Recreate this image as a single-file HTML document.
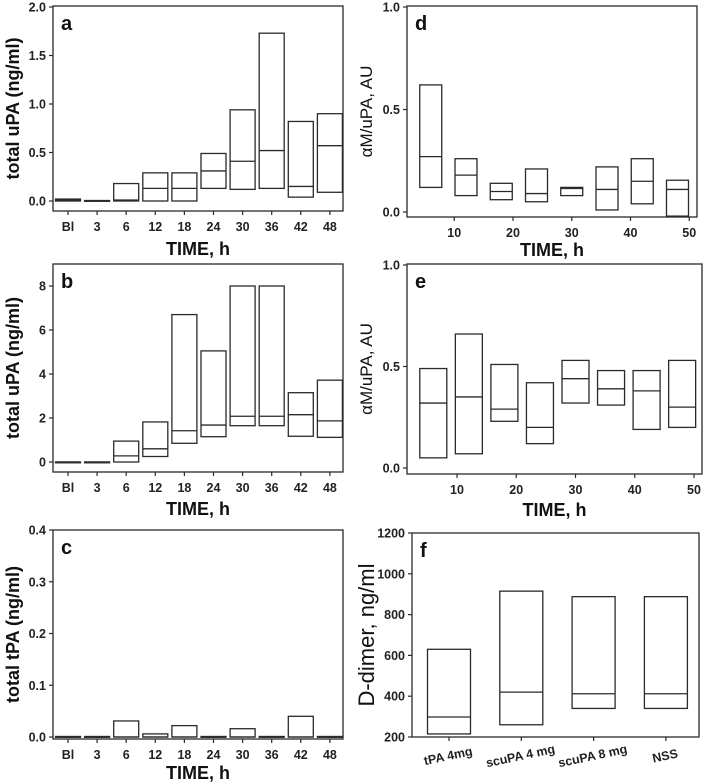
<!DOCTYPE html>
<html><head><meta charset="utf-8"><style>
body{margin:0;background:#fff}
svg{display:block;font-family:"Liberation Sans",sans-serif}
</style></head><body>
<svg id="fig" width="708" height="784" viewBox="0 0 708 784"></svg>
<script>
// Panel a: total uPA
const catsTime=["Bl","3","6","12","18","24","30","36","42","48"];
const aLow=[0,0,0,0,0,0.13,0.12,0.13,0.04,0.09];
const aMed=[0.01,0.002,0.01,0.13,0.13,0.31,0.41,0.52,0.15,0.57];
const aHigh=[0.02,0.005,0.18,0.29,0.29,0.49,0.94,1.73,0.82,0.9];
const aTicks=[0,0.5,1.0,1.5,2.0];
// Panel b: total uPA
const bLow=[0,0,0,0.25,0.85,1.15,1.65,1.65,1.17,1.12];
const bMed=[0,0,0.28,0.6,1.42,1.68,2.08,2.08,2.15,1.87];
const bHigh=[0,0,0.95,1.82,6.7,5.05,8,8,3.15,3.72];
const bTicks=[0,2,4,6,8];
// Panel c: total tPA
const cLow=[0,0,0,0,0,0,0,0,0,0];
const cMed=[0,0,0,0,0,0,0,0,0,0];
const cHigh=[0.001,0.001,0.031,0.006,0.022,0.001,0.016,0.001,0.04,0.001];
const cTicks=[0,0.1,0.2,0.3,0.4];
// Panel d: aM/uPA
const dX=[6,12,18,24,30,36,42,48];
const dLow=[0.12,0.08,0.06,0.05,0.08,0.01,0.04,-0.02];
const dMed=[0.27,0.18,0.10,0.09,0.115,0.11,0.15,0.11];
const dHigh=[0.62,0.26,0.14,0.21,0.12,0.22,0.26,0.155];
const dTicks=[0,0.5,1.0];
const dxTicks=[10,20,30,40,50];
// Panel e: aM/uPA
const eX=[6,12,18,24,30,36,42,48];
const eLow=[0.05,0.07,0.23,0.12,0.32,0.31,0.19,0.2];
const eMed=[0.32,0.35,0.29,0.2,0.44,0.39,0.38,0.3];
const eHigh=[0.49,0.66,0.51,0.42,0.53,0.48,0.48,0.53];
const eTicks=[0,0.5,1.0];
// Panel f: D-dimer
const fCats=["tPA 4mg","scuPA 4 mg","scuPA 8 mg","NSS"];
const fLow=[215,260,340,340];
const fMed=[298,420,412,412];
const fHigh=[630,915,888,888];
const fTicks=[200,400,600,800,1000,1200];

const NS="http://www.w3.org/2000/svg";
const svg=document.getElementById('fig');
const C="#2a2a2a";
function el(tag,attrs,parent,txt){const e=document.createElementNS(NS,tag);for(const k in attrs)e.setAttribute(k,attrs[k]);if(txt!==undefined)e.textContent=txt;(parent||svg).appendChild(e);return e;}

function panel(o){
  const g=el('g',{});
  
  
  const y=v=>o.y0+(v-o.ymin)/(o.ymax-o.ymin)*(o.y1-o.y0);
  const fr=el('rect',{x:o.L,y:o.T,width:o.R-o.L,height:o.B-o.T,fill:'none',stroke:C,'stroke-width':1.3},g);
  
  
  o.yticks.forEach(t=>{
    const yy=y(t);
    el('line',{x1:o.L-4,x2:o.L,y1:yy,y2:yy,stroke:C,'stroke-width':1.2},g);
    const tl=el('text',{x:o.L-7,y:yy+4.5,'text-anchor':'end','font-size':12.5,'font-weight':'bold',fill:'#222'},g,o.yfmt(t));
    
    
  });
  o.xticks.forEach((t,i)=>{
    const xx=o.xpos(t,i);
    el('line',{x1:xx,x2:xx,y1:o.B,y2:o.B+4,stroke:C,'stroke-width':1.2},g);
    let tl;
    if(o.rot){tl=el('text',{x:xx,y:o.B+23,'text-anchor':'middle','font-size':12.5,'font-weight':'bold',fill:'#222',transform:`rotate(-12 ${xx} ${o.B+23})`},g,o.xlab(t,i));}
    else tl=el('text',{x:xx,y:o.B+20,'text-anchor':'middle','font-size':12.5,'font-weight':'bold',fill:'#222'},g,o.xlab(t,i));
    
    
  });
  o.lo.forEach((lo,i)=>{
    const cx=o.cx(i),w=o.bw;
    const top=y(o.hi[i]),bot=y(lo);
    const r=el('rect',{x:cx-w/2,y:Math.min(top,bot),width:w,height:Math.max(Math.abs(bot-top),0.8),fill:'none',stroke:C,'stroke-width':1.3},g);
    
    
    const m=el('line',{x1:cx-w/2,x2:cx+w/2,y1:y(o.med[i]),y2:y(o.med[i]),stroke:C,'stroke-width':1.3},g);
    
    
  });
  const pl=el('text',{x:o.L+8,y:o.T+24,'font-size':20,'font-weight':'bold',fill:'#111'},g,o.id);
  
  
  if(o.xtitle){
    const xt=el('text',{x:(o.L+o.R)/2,y:o.xtY,'text-anchor':'middle','font-size':18,'font-weight':'bold',fill:'#111'},g,o.xtitle);
    
    
  }
  const cy=(o.T+o.B)/2;
  const yt=el('text',{x:o.ytX,y:cy,'text-anchor':'middle','font-size':o.ytSize,'font-weight':o.ytBold?'bold':'normal',fill:'#111',transform:`rotate(-90 ${o.ytX} ${cy})`},g,o.ytitle);
  
  
}

const catX=i=>68+i*29.1;
panel({id:'a',L:53,R:343,T:6,B:211,y0:201,y1:7,ymin:0,ymax:2,yticks:aTicks,yfmt:t=>t.toFixed(1),
  xticks:catsTime,xpos:(t,i)=>catX(i),xlab:t=>t,lo:aLow,med:aMed,hi:aHigh,cx:catX,bw:25,
  xtitle:'TIME, h',xtY:255,ytitle:'total uPA (ng/ml)',ytX:19,ytSize:18,ytBold:true});
panel({id:'b',L:53,R:343,T:264,B:472,y0:462,y1:286,ymin:0,ymax:8,yticks:bTicks,yfmt:t=>String(t),
  xticks:catsTime,xpos:(t,i)=>catX(i),xlab:t=>t,lo:bLow,med:bMed,hi:bHigh,cx:catX,bw:25,
  xtitle:'TIME, h',xtY:515,ytitle:'total uPA (ng/ml)',ytX:19,ytSize:18,ytBold:true});
panel({id:'c',L:53,R:343,T:530,B:739,y0:737,y1:530,ymin:0,ymax:0.4,yticks:cTicks,yfmt:t=>t.toFixed(1),
  xticks:catsTime,xpos:(t,i)=>catX(i),xlab:t=>t,lo:cLow,med:cMed,hi:cHigh,cx:catX,bw:25,
  xtitle:'TIME, h',xtY:779,ytitle:'total tPA (ng/ml)',ytX:19,ytSize:18,ytBold:true});
const dxs=v=>395.5+v*5.875;
panel({id:'d',L:407,R:697,T:6,B:217,y0:212,y1:7,ymin:0,ymax:1,yticks:dTicks,yfmt:t=>t.toFixed(1),
  xticks:dxTicks,xpos:t=>dxs(t),xlab:t=>t,lo:dLow,med:dMed,hi:dHigh,cx:i=>dxs(dX[i]),bw:22,
  xtitle:'TIME, h',xtY:256,ytitle:'\u03b1M/uPA, AU',ytX:372,ytSize:17,ytBold:false});
const exs=v=>397.75+v*5.925;
panel({id:'e',L:407,R:702,T:264,B:474,y0:468,y1:265,ymin:0,ymax:1,yticks:eTicks,yfmt:t=>t.toFixed(1),
  xticks:dxTicks,xpos:t=>exs(t),xlab:t=>t,lo:eLow,med:eMed,hi:eHigh,cx:i=>exs(eX[i]),bw:27,
  xtitle:'TIME, h',xtY:516,ytitle:'\u03b1M/uPA, AU',ytX:372,ytSize:17,ytBold:false});
const fx=i=>449+i*72.3;
panel({id:'f',L:412,R:699,T:533,B:737,y0:737,y1:533,ymin:200,ymax:1200,yticks:fTicks,yfmt:t=>String(t),
  xticks:fCats,xpos:(t,i)=>fx(i),xlab:t=>t,rot:true,lo:fLow,med:fMed,hi:fHigh,cx:fx,bw:43,
  xtitle:null,ytitle:'D-dimer, ng/ml',ytX:374,ytSize:22,ytBold:false});
</script>
</body></html>
